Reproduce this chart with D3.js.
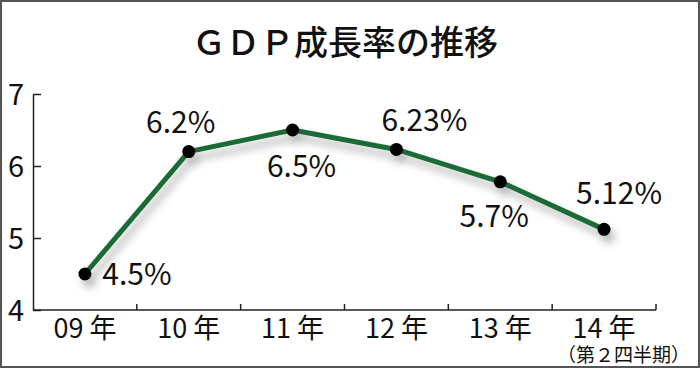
<!DOCTYPE html>
<html><head><meta charset="utf-8">
<script src="https://cdn.jsdelivr.net/npm/d3@7"></script>
<style>body{margin:0;background:#fff}svg{display:block}</style></head>
<body>
<svg id="c" width="700" height="368"></svg>
<script>
const title = "ＧＤＰ成長率の推移";
const note = "（第２四半期）";
const categories = ["09 年", "10 年", "11 年", "12 年", "13 年", "14 年"];
const values = [4.5, 6.2, 6.5, 6.23, 5.78, 5.12];
const valueLabels = ["4.5%", "6.2%", "6.5%", "6.23%", "5.7%", "5.12%"];
const yTicks = [4, 5, 6, 7];

const W = 700, H = 368;
const font = "'Noto Sans CJK JP', 'Noto Sans', sans-serif";
const green = "#1a6b35";
const svg = d3.select("#c");

const defs = svg.append("defs");
const f = defs.append("filter").attr("id", "sh").attr("x", "-20%").attr("y", "-20%").attr("width", "140%").attr("height", "160%");
f.append("feDropShadow").attr("dx", 4).attr("dy", 7).attr("stdDeviation", 4)
  .attr("flood-color", "#000").attr("flood-opacity", 0.3);

svg.append("rect").attr("x", 1).attr("y", 1).attr("width", W - 2).attr("height", H - 2)
  .attr("fill", "#fff").attr("stroke", "#555").attr("stroke-width", 2);

svg.append("text").attr("x", 345).attr("y", 55).attr("text-anchor", "middle")
  .attr("font-family", font).attr("font-size", 34).attr("font-weight", 500).attr("fill", "#111")
  .text(title);

const x = d3.scaleBand().domain(categories).range([33, 656]).padding(0);
const y = d3.scaleLinear().domain([4, 7]).range([310, 94]);

// y axis
const ya = svg.append("g").attr("transform", "translate(33,0)")
  .call(d3.axisLeft(y).tickValues(yTicks).tickFormat(d3.format("d")).tickSize(-8).tickSizeOuter(0).tickPadding(9));
ya.select(".domain").attr("stroke", "#222").attr("stroke-width", 1.5);
ya.selectAll(".tick line").attr("stroke", "#222").attr("stroke-width", 1.5);
ya.selectAll(".tick text").attr("font-family", font).attr("font-size", 29).attr("fill", "#111").attr("dy", "0.36em");

// x axis
const xa = svg.append("g");
xa.append("line").attr("x1", x.range()[0]).attr("x2", x.range()[1]).attr("y1", y(4)).attr("y2", y(4))
  .attr("stroke", "#222").attr("stroke-width", 1.5);
const bounds = categories.slice(1).map(c => x(c)).concat([x.range()[1]]);
xa.selectAll("line.t").data(bounds).join("line").attr("class", "t")
  .attr("x1", d => d).attr("x2", d => d).attr("y1", y(4)).attr("y2", y(4) - 6)
  .attr("stroke", "#222").attr("stroke-width", 1.5);
xa.selectAll("text").data(categories).join("text")
  .attr("x", d => x(d) + x.bandwidth() / 2).attr("y", 338).attr("text-anchor", "middle")
  .attr("font-family", font).attr("font-size", 27).attr("fill", "#111").text(d => d);

svg.append("text").attr("x", 690).attr("y", 362).attr("text-anchor", "end")
  .attr("font-family", font).attr("font-size", 19).attr("fill", "#111").text(note);

// line + points
const pts = values.map((v, i) => [x(categories[i]) + x.bandwidth() / 2, y(v)]);
const g = svg.append("g").attr("filter", "url(#sh)");
g.append("path").attr("d", d3.line()(pts)).attr("fill", "none").attr("stroke", green)
  .attr("stroke-width", 5).attr("stroke-linejoin", "round");
g.selectAll("circle").data(pts).join("circle").attr("cx", d => d[0]).attr("cy", d => d[1])
  .attr("r", 6.5).attr("fill", "#000");

// value labels
const off = [[52, 11], [-8, -19], [9, 47], [28, -18], [-6, 45], [15, -25]];
svg.selectAll("text.v").data(valueLabels).join("text").attr("class", "v")
  .attr("x", (d, i) => pts[i][0] + off[i][0]).attr("y", (d, i) => pts[i][1] + off[i][1])
  .attr("text-anchor", "middle").attr("font-family", font).attr("font-size", 30).attr("fill", "#111")
  .text(d => d);
</script>
</body></html>
